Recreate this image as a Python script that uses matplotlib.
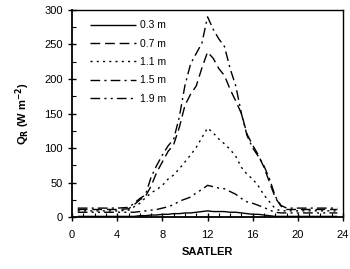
import matplotlib
matplotlib.use("Agg")
import matplotlib.pyplot as plt
from matplotlib.ticker import MultipleLocator

plt.rcParams["font.family"] = ["Liberation Sans", "DejaVu Sans"]

# hours of day
hours = [0.5, 1, 2, 3, 4, 5, 5.5, 6, 6.5, 7, 7.5, 8, 8.5, 9, 9.5, 10, 10.5, 11, 11.5,
         12, 12.5, 13, 13.5, 14, 14.5, 15, 15.5, 16, 16.5, 17, 17.5, 18, 18.5,
         19, 20, 21, 22, 23, 23.5]

q_03 = [1, 1, 1, 1, 1, 1, 1, 2, 2, 3, 3, 4, 4, 5, 5, 6, 6, 7, 8,
        9, 8, 8, 8, 7, 7, 6, 5, 4, 4, 3, 2, 1, 1,
        1, 1, 1, 1, 1, 1]
q_07 = [11, 11, 11, 11, 11, 12, 18, 25, 30, 45, 65, 80, 95, 105, 130, 162, 178, 190, 216,
        239, 230, 215, 205, 185, 168, 150, 120, 104, 90, 72, 50, 28, 16,
        11, 11, 11, 11, 11, 11]
q_11 = [9, 9, 9, 9, 9, 10, 15, 20, 28, 35, 40, 46, 55, 61, 70, 80, 90, 101, 115,
        129, 122, 113, 106, 98, 88, 72, 62, 55, 45, 32, 22, 12, 9,
        9, 9, 9, 9, 9, 9]
q_15 = [13, 13, 13, 13, 13, 14, 20, 27, 32, 58, 75, 90, 103, 113, 145, 191, 222, 237, 252,
        290, 272, 258, 247, 215, 190, 150, 118, 100, 88, 74, 55, 30, 17,
        13, 13, 13, 13, 13, 13]
q_19 = [7, 7, 7, 7, 7, 7, 7, 8, 9, 10, 11, 13, 15, 18, 23, 26, 29, 35, 40,
        46, 44, 42, 41, 37, 33, 27, 22, 20, 17, 14, 10, 7, 6,
        6, 6, 6, 6, 6, 6]

labels = ["0.3 m", "0.7 m", "1.1 m", "1.5 m", "1.9 m"]
series = [q_03, q_07, q_11, q_15, q_19]
dash_styles = [
    (0, ()),
    (0, (7, 3.5)),
    (0, (1.5, 3)),
    (0, (7, 3, 1.5, 3)),
    (0, (7, 3, 1.5, 3, 1.5, 3)),
]

fig = plt.figure(figsize=(3.5, 2.69), dpi=100)
ax = fig.add_axes([0.206, 0.193, 0.774, 0.770])

for vals, lab, ls in zip(series, labels, dash_styles):
    ax.plot(hours, vals, color="black", linewidth=1.0, linestyle=ls, label=lab)

ax.set_xlim(0, 24)
ax.set_ylim(0, 300)
ax.xaxis.set_major_locator(MultipleLocator(4))
ax.xaxis.set_minor_locator(MultipleLocator(1))
ax.yaxis.set_major_locator(MultipleLocator(50))
ax.yaxis.set_minor_locator(MultipleLocator(25))
ax.tick_params(which="major", direction="inout", length=6, width=1, labelsize=8)
ax.tick_params(which="minor", direction="in", length=3, width=0.8)
ax.tick_params(axis="x", pad=6)
for sp in ax.spines.values():
    sp.set_linewidth(1.0)
ax.spines["left"].set_linewidth(1.3)
ax.spines["bottom"].set_linewidth(1.3)

ax.set_xlabel("SAATLER", fontsize=8, fontweight="bold", labelpad=5)
ax.set_ylabel(r"Q$_\mathbf{R}$ (W m$^\mathbf{-2}$)", fontsize=8, fontweight="bold", labelpad=9)

ax.legend(loc="upper left", bbox_to_anchor=(0.05, 0.97), frameon=False, fontsize=7.5,
          handlelength=4.4, handletextpad=0.4, labelspacing=0.8, borderaxespad=0)

fig.savefig("out.png", dpi=100)
